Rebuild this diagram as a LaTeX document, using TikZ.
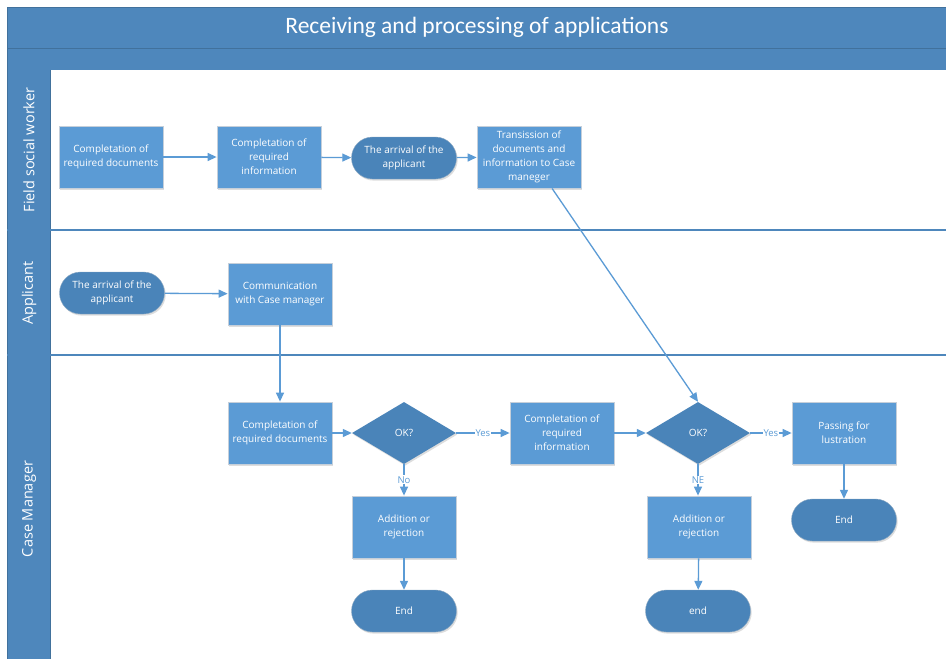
\documentclass[tikz,border=0pt]{standalone}
\usepackage{fontspec}
\setmainfont{Open Sans}
\newfontfamily\titlefont{Carlito}
\usetikzlibrary{arrows.meta,shapes.geometric,shadows,calc}

\definecolor{band}{HTML}{4E87BC}
\definecolor{bandrim}{HTML}{41719C}
\definecolor{boxblue}{HTML}{5B9BD5}
\definecolor{termblue}{HTML}{4A84B9}
\definecolor{edgeblue}{HTML}{5B9BD5}
\definecolor{boxrim}{HTML}{C5CFDA}

\begin{document}
\begin{tikzpicture}[x=1pt,y=-1pt,
  softshadow/.style={drop shadow={shadow xshift=1.2pt,shadow yshift=-1.6pt,opacity=0.22,fill=black!60}},
  proc/.style={rectangle, fill=boxblue, draw=boxrim, line width=0.8pt,
    minimum width=104pt, minimum height=62pt, inner sep=2pt, align=center,
    text=white, font=\fontsize{10}{14}\selectfont, softshadow},
  term/.style={rectangle, rounded corners=21pt, fill=termblue, draw=bandrim!60, line width=0.4pt,
    minimum width=105pt, minimum height=42pt, inner sep=2pt, align=center,
    text=white, font=\fontsize{10}{14}\selectfont, softshadow},
  decide/.style={diamond, fill=termblue, minimum width=104pt, minimum height=62pt,
    inner sep=0pt, text=white, font=\fontsize{10}{14}\selectfont, softshadow},
  flow/.style={draw=edgeblue, line width=1.3pt, -{Triangle[length=9pt,width=8pt]}},
  tag/.style={fill=white, text=edgeblue, inner sep=1pt, font=\fontsize{9.5}{10}\selectfont},
  lanetitle/.style={rotate=90, text=white, font=\fontsize{14.5}{16}\selectfont},
  laneline/.style={draw=band, line width=1.2pt}
]
\useasboundingbox (0,0) rectangle (946,659);
\fill[white] (0,0) rectangle (946,659);

% header bands
\fill[band] (7,7) rectangle (946,70);
\draw[bandrim, line width=0.8pt] (7,48.5) -- (946,48.5);
\draw[bandrim, line width=0.6pt] (7,7) -- (946,7);
\draw[bandrim, line width=0.6pt] (7,7) -- (7,70);
\node[text=white, font=\titlefont\fontsize{23.5}{26}\selectfont] (title) at (477,27) {Receiving and processing of applications};

% lane label column
\fill[band] (7,70) rectangle (50,659);
\draw[bandrim, line width=0.8pt] (50,70) -- (50,659);
\draw[bandrim, line width=0.6pt] (7,70) -- (7,659);
\draw[laneline] (7,230) -- (946,230);
\draw[laneline] (7,355) -- (946,355);
\node[lanetitle] (laneF) at (29,150) {Field social worker};
\node[lanetitle] (laneA) at (29,293) {Applicant};
\node[lanetitle] (laneC) at (29,509) {Case Manager};

% Field social worker lane
\node[proc] (A1) at (111,157) {Completation of\\required documents};
\node[proc] (A2) at (269,157) {Completation of\\required\\information};
\node[term] (A3) at (404,158) {The arrival of the\\applicant};
\node[proc] (A4) at (529,157) {Transission of\\documents and\\information to Case\\maneger};

% Applicant lane
\node[term] (B1) at (112,293) {The arrival of the\\applicant};
\node[proc] (B2) at (280,294) {Communication\\with Case manager};

% Case Manager lane
\node[proc] (C1) at (280,433) {Completation of\\required documents};
\node[decide] (D1) at (404,433) {OK?};
\node[proc] (C2) at (562,433) {Completation of\\required\\information};
\node[decide] (D2) at (698,433) {OK?};
\node[proc] (C3) at (844,433) {Passing for\\lustration};
\node[proc] (E1) at (404,527) {Addition or\\rejection};
\node[proc] (E2) at (699,527) {Addition or\\rejection};
\node[term] (End1) at (404,611) {End};
\node[term] (End2) at (698,611) {end};
\node[term] (End3) at (844,520) {End};

% connectors
\draw[flow] (A1) -- (A2);
\draw[flow] (A2) -- (A3);
\draw[flow] (A3) -- (A4);
\coordinate (A4out) at ($(A4.south west)!0.72!(A4.south east)$);
\draw[flow] (A4out) -- (D2.north);
\draw[flow] (B1) -- (B2);
\draw[flow] (B2) -- (C1);
\draw[flow] (C1) -- (D1);
\draw[flow] (D1) -- node[tag] {Yes} (C2);
\draw[flow] (C2) -- (D2);
\draw[flow] (D2) -- node[tag] {Yes} (C3);
\draw[flow] (D1) -- node[tag] {No} (E1);
\draw[flow] (D2.south) -- node[tag] {NE} (E2.north -| D2.south);
\draw[flow] (E1) -- (End1);
\draw[flow] (E2) -- (End2);
\draw[flow] (C3) -- (End3);
\end{tikzpicture}
\end{document}
